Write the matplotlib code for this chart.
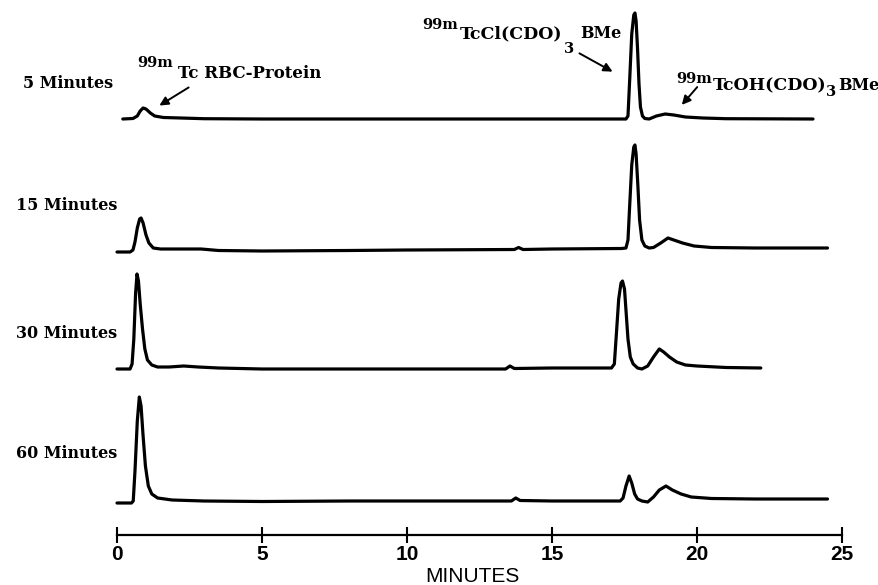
import numpy as np
import matplotlib
matplotlib.use("Agg")
import matplotlib.pyplot as plt

# retention time [min] and detector response (arbitrary units)
t_5 = [0.2, 0.55, 0.7, 0.8, 0.9, 1.0, 1.15, 1.3, 1.6, 2.2, 3.0, 5, 8, 10, 12, 15, 17.3,
       17.55, 17.62, 17.68, 17.75, 17.82, 17.86, 17.9, 17.95, 18.0, 18.05, 18.12, 18.2,
       18.35, 18.6, 18.9, 19.2, 19.6, 20.2, 21, 24.0]
y_5 = [0, 0.5, 3, 8, 11, 10, 6, 3, 1.5, 1, 0.3, 0, 0, 0, 0, 0, 0,
       0, 3, 40, 85, 104, 106, 98, 70, 35, 12, 3, 0.5,
       0, 3, 5, 4, 2, 1, 0.3, 0]

t_15 = [0.0, 0.45, 0.55, 0.62, 0.7, 0.78, 0.83, 0.9, 1.0, 1.1, 1.25, 1.5, 2.0, 2.9, 3.5,
        5, 8, 10, 13.7, 13.85, 14.0, 15, 17.4, 17.55, 17.62, 17.68, 17.75, 17.82, 17.86,
        17.9, 17.96, 18.02, 18.1, 18.2, 18.35, 18.5, 18.75, 19.0, 19.2, 19.5, 19.9, 20.5,
        22, 24.5]
y_15 = [-2, -2, 0, 8, 22, 31, 32, 27, 15, 7, 2, 1, 1, 1, -0.5,
        -1, -0.5, 0, 0.5, 2.5, 0.5, 1, 1.5, 2, 10, 45, 85, 103, 105,
        96, 65, 30, 10, 4, 2, 2.5, 7, 12, 10, 7, 4, 2.5,
        2, 2]

t_30 = [0.0, 0.45, 0.52, 0.58, 0.64, 0.69, 0.74, 0.8, 0.88, 0.96, 1.05, 1.2, 1.4, 1.8,
        2.3, 2.8, 3.5, 5, 8, 10, 13.4, 13.55, 13.7, 15, 17.05, 17.15, 17.22, 17.3, 17.38,
        17.43, 17.5, 17.56, 17.62, 17.7, 17.8, 17.95, 18.1, 18.3, 18.5, 18.7, 18.85, 19.05,
        19.3, 19.6, 20.0, 21, 22.2]
y_30 = [0, 0, 5, 30, 75, 95, 88, 65, 40, 20, 9, 4, 2, 2,
        3, 2, 1, 0, 0, 0, 0, 3, 0.5, 1, 1, 5, 35, 70, 86,
        88, 80, 55, 30, 12, 5, 1, 0, 3, 12, 20, 17, 12,
        7, 4, 3, 1.5, 1]

t_60 = [0.0, 0.5, 0.56, 0.62, 0.7, 0.77, 0.83, 0.9, 0.98, 1.08, 1.2, 1.4, 1.9, 3, 5, 8,
        10, 13.6, 13.75, 13.9, 15, 17.35, 17.45, 17.55, 17.66, 17.75, 17.85, 17.95, 18.1,
        18.3, 18.5, 18.7, 18.93, 19.15, 19.45, 19.8, 20.5, 22, 24.5]
y_60 = [-2, -2, 0, 30, 80, 104, 95, 65, 35, 15, 7, 3, 1, 0, -0.5, 0,
        0, 0, 3, 0.5, 0, 0, 3, 15, 25, 18, 7, 2, 0,
        -1, 4, 11, 15, 11, 7, 4, 2.5, 2, 2]

traces = [(t_5, y_5), (t_15, y_15), (t_30, y_30), (t_60, y_60)]
offsets = [416, 285, 166, 34]
labels = ["5 Minutes", "15 Minutes", "30 Minutes", "60 Minutes"]
label_pos = [(113, 84), (117, 205), (117, 333), (117, 453)]

W, H = 879, 585
fig = plt.figure(figsize=(W / 100, H / 100), dpi=100)
ax = fig.add_axes([102.5 / W, 50 / H, 754 / W, 535 / H])

for (t, y), off in zip(traces, offsets):
    ax.plot(t, np.array(y) + off, color="black", lw=2.3, solid_capstyle="round",
            solid_joinstyle="round", clip_on=False)

ax.set_xlim(-0.5, 25.5)
ax.set_ylim(0, 535)
for s in ["left", "right", "top"]:
    ax.spines[s].set_visible(False)
ax.spines["bottom"].set_bounds(0, 25)
ax.spines["bottom"].set_linewidth(1.6)
ax.set_yticks([])
ax.set_xticks([0, 5, 10, 15, 20, 25])
ax.tick_params(axis="x", direction="inout", length=11, width=1.5, pad=2,
               labelsize=15)
for lab in ax.get_xticklabels():
    lab.set_fontfamily("Liberation Sans")
    lab.set_fontweight("bold")

serif = dict(family="DejaVu Serif", weight="bold", color="black")


def ftext(x, y, s, size=12, ha="left", va="center", **kw):
    fig.text(x / W, 1 - y / H, s, ha=ha, va=va, fontsize=size, **serif, **kw)


for lab, (x, y) in zip(labels, label_pos):
    ftext(x, y, lab, size=11.5, ha="right")

ftext(137, 63, "99m", size=10.5)
ftext(178, 74, "Tc RBC-Protein")
ftext(422, 25, "99m", size=10.5)
ftext(460, 34, "TcCl(CDO)", size=12.5)
ftext(569, 49, "3", size=10.5, ha="center")
ftext(580, 34, "BMe", size=11.5)
ftext(676, 79, "99m", size=10.5)
ftext(713, 86, "TcOH(CDO)", size=12.5)
ftext(826, 92, "3", size=10.5)
ftext(838, 86, "BMe", size=11.5)

arrows = [((191, 86), (157, 107)), ((577, 52), (615, 73)), ((699, 85), (680, 107))]
for (x0, y0), (x1, y1) in arrows:
    fig.add_artist(matplotlib.patches.FancyArrowPatch(
        (x0, H - y0), (x1, H - y1), transform=None, arrowstyle="-|>",
        mutation_scale=13, lw=1.4, color="black"))

fig.text(472 / W, 1 - 577 / H, "MINUTES", ha="center", va="center",
         fontsize=15, family="Liberation Sans")

fig.savefig("out.png", dpi=100)
